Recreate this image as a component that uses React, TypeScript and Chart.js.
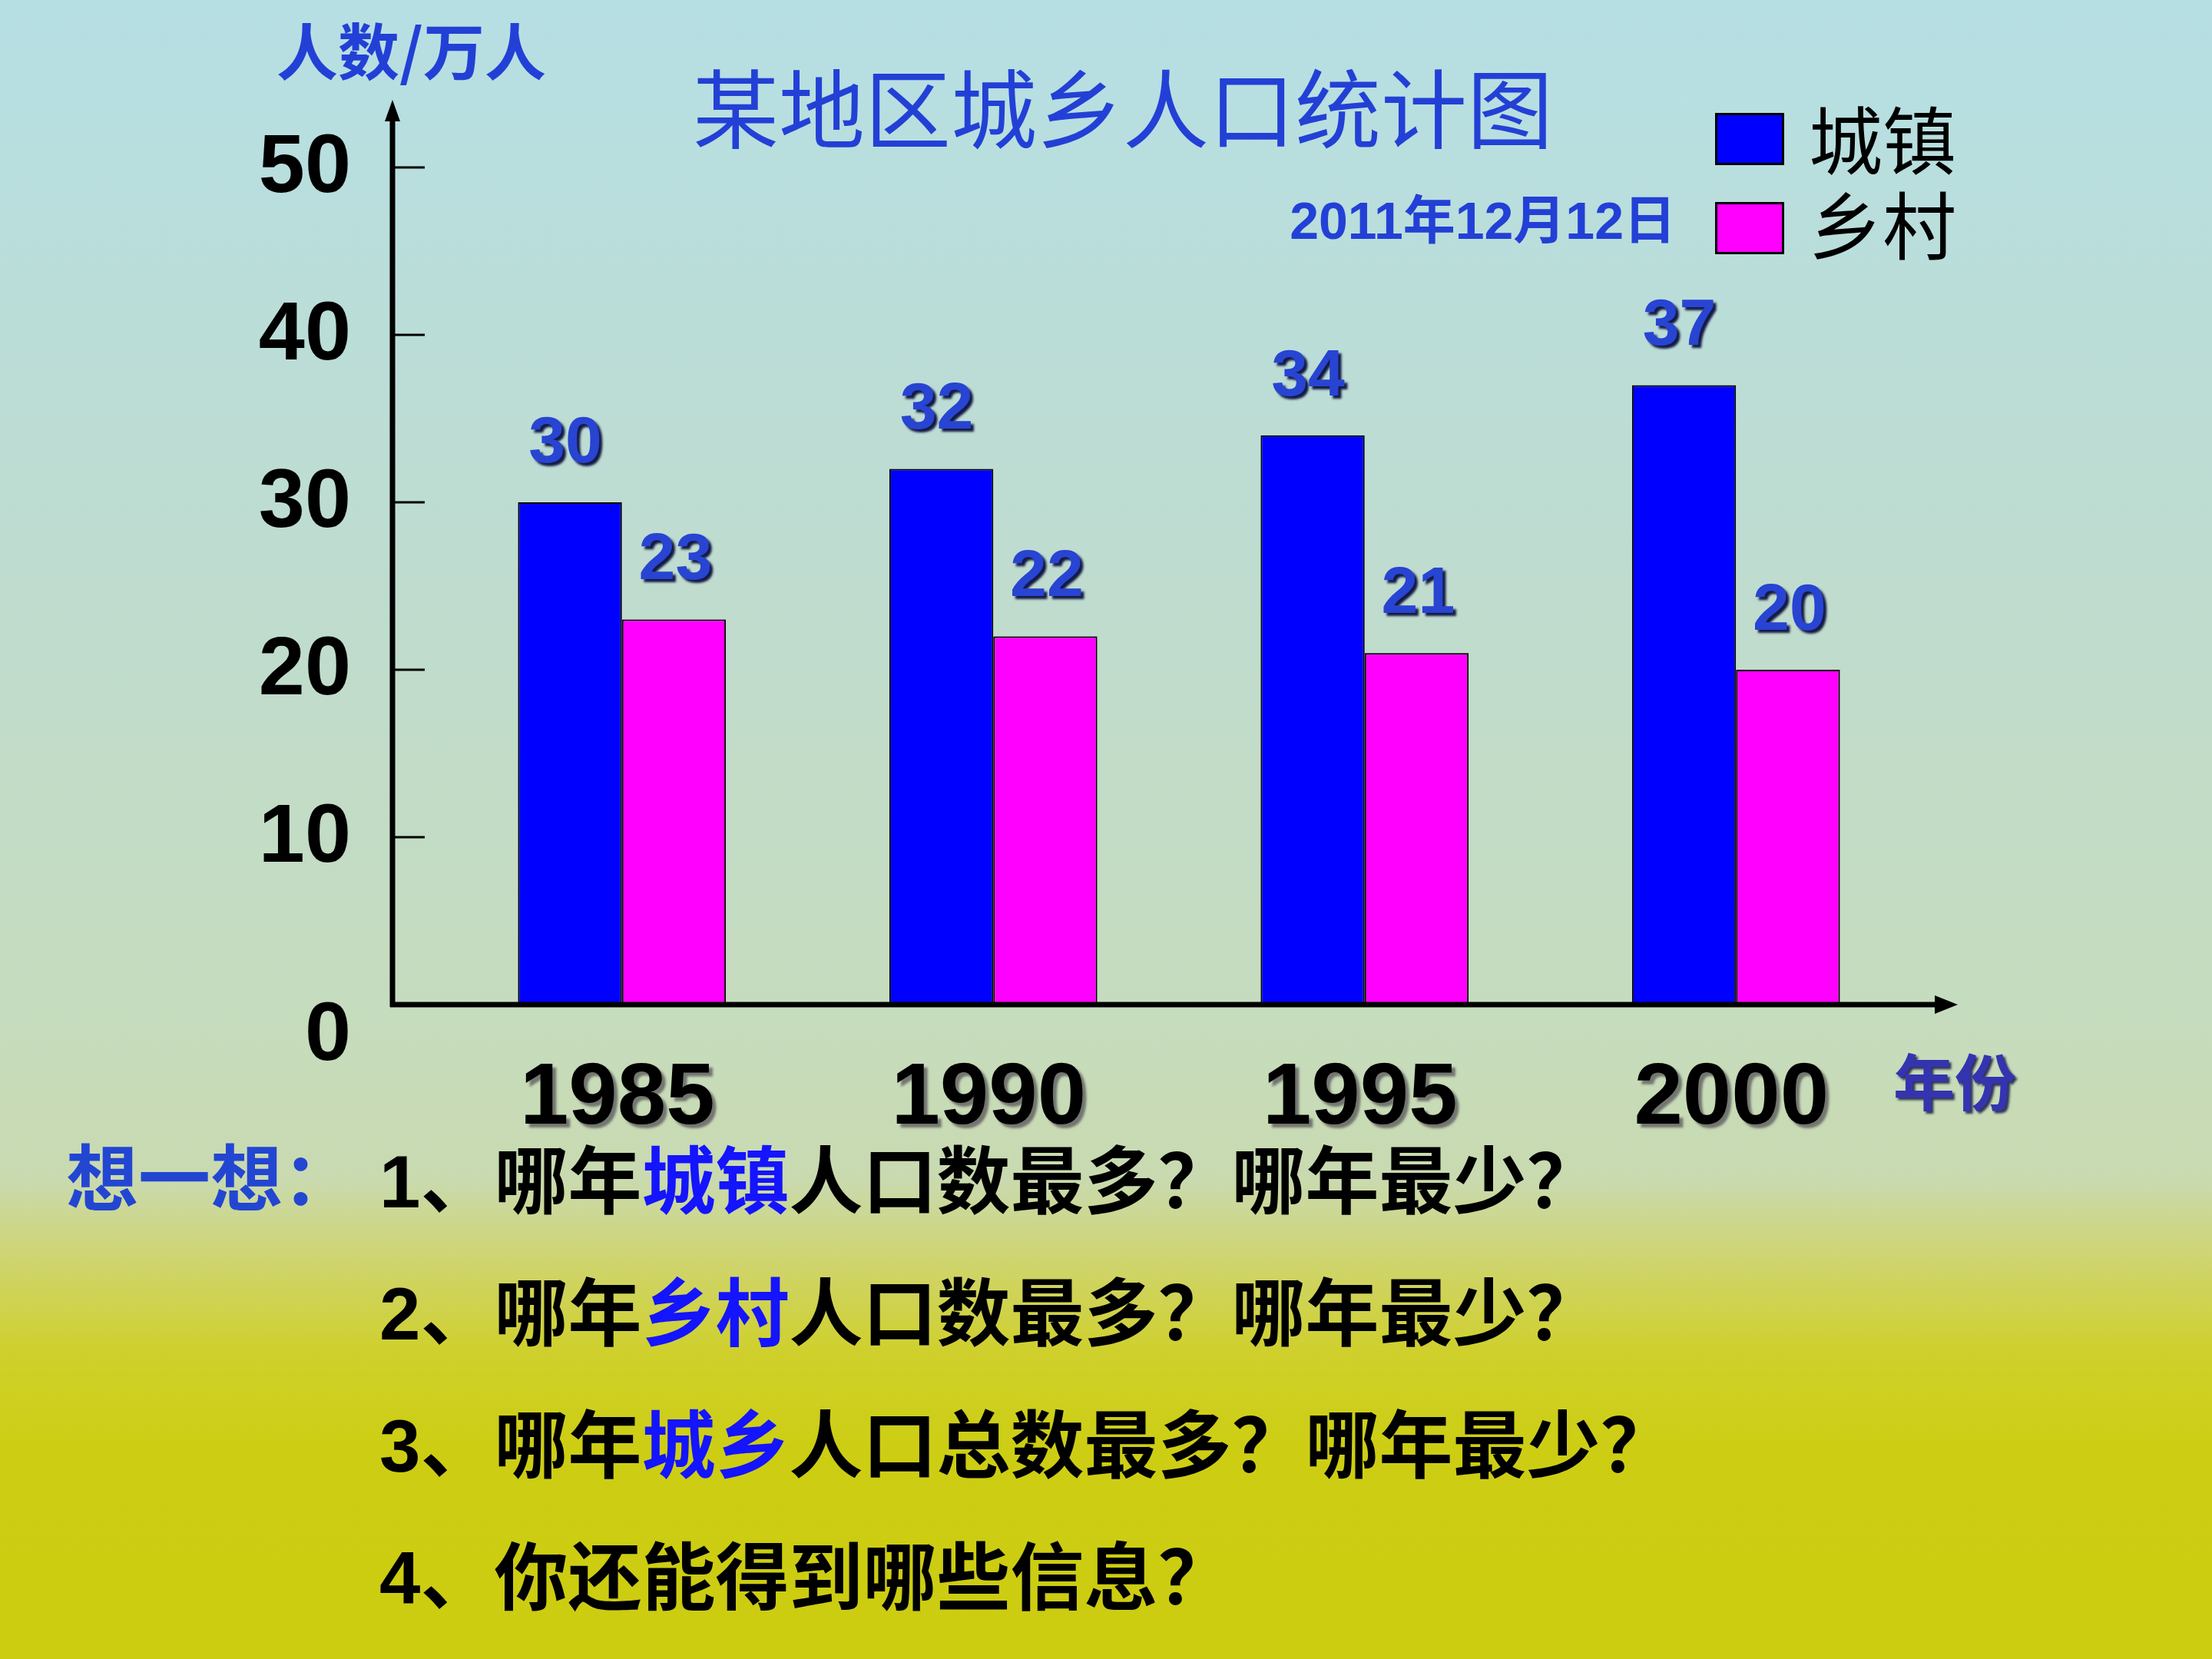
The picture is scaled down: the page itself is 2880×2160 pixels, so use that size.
import React, { useEffect, useRef } from "react";
import { Chart, registerables } from "chart.js";

Chart.register(...registerables);

// ---------- data ----------
const years = ["1985", "1990", "1995", "2000"];
const seriesNames = ["城镇", "乡村"];
const urbanValues = [30, 32, 34, 37];
const ruralValues = [23, 22, 21, 20];
const seriesColors = ["#0000ff", "#ff00ff"];
const yTickValues = [0, 10, 20, 30, 40, 50];
const titleText = "某地区城乡人口统计图";
const yAxisTitle = "人数/万人";
const xAxisTitle = "年份";
const dateText = "2011年12月12日";
const promptText = "想一想：";
// each question: list of [text, highlighted]
const questions: [string, boolean][][] = [
  [["1、哪年", false], ["城镇", true], ["人口数最多？哪年最少？", false]],
  [["2、哪年", false], ["乡村", true], ["人口数最多？哪年最少？", false]],
  [["3、哪年", false], ["城乡", true], ["人口总数最多？哪年最少？", false]],
  [["4、你还能得到哪些信息？", false]],
];

const ARIAL = "'Liberation Sans', Arial, sans-serif";
const CJK = "'Liberation Sans', 'Noto Sans CJK SC', sans-serif";

const slidePlugin = {
  id: "slideAxes",
  afterDatasetsDraw(chart: any) {
    const { ctx, chartArea, scales } = chart;
    const x = scales.x;
    const y = scales.y;
    const axisX = chartArea.left - 57;
    const zeroY = y.getPixelForValue(0);
    const topY = y.getPixelForValue(50);
    ctx.save();
    ctx.fillStyle = "#000";
    ctx.strokeStyle = "#000";

    // y axis with arrow
    ctx.lineWidth = 7;
    ctx.beginPath();
    ctx.moveTo(axisX, zeroY + 3);
    ctx.lineTo(axisX, topY - 70);
    ctx.stroke();
    ctx.beginPath();
    ctx.moveTo(axisX, topY - 88);
    ctx.lineTo(axisX - 10, topY - 60);
    ctx.lineTo(axisX + 10, topY - 60);
    ctx.closePath();
    ctx.fill();

    // x axis with arrow
    const tipX = chartArea.right + 47;
    ctx.beginPath();
    ctx.moveTo(axisX - 3, zeroY);
    ctx.lineTo(tipX - 20, zeroY);
    ctx.stroke();
    ctx.beginPath();
    ctx.moveTo(tipX, zeroY);
    ctx.lineTo(tipX - 30, zeroY - 12);
    ctx.lineTo(tipX - 30, zeroY + 12);
    ctx.closePath();
    ctx.fill();

    // y ticks + labels
    ctx.lineWidth = 3;
    ctx.font = `bold 108px ${ARIAL}`;
    ctx.textAlign = "right";
    ctx.textBaseline = "middle";
    yTickValues.forEach((v) => {
      const py = y.getPixelForValue(v);
      if (v !== 0) {
        ctx.beginPath();
        ctx.moveTo(axisX, py);
        ctx.lineTo(axisX + 42, py);
        ctx.stroke();
        ctx.fillText(String(v), axisX - 54, py + 2);
      } else {
        ctx.fillText(String(v), axisX - 54, py + 42);
      }
    });

    // x labels with grey shadow
    ctx.font = `bold 114px ${ARIAL}`;
    ctx.textAlign = "center";
    ctx.shadowColor = "rgba(100,100,100,0.85)";
    ctx.shadowOffsetX = 5;
    ctx.shadowOffsetY = 5;
    ctx.shadowBlur = 3;
    years.forEach((lab, i) => {
      ctx.fillText(lab, x.getPixelForValue(i) - 6, zeroY + 124);
    });

    // data labels
    ctx.font = `bold 86px ${ARIAL}`;
    ctx.fillStyle = "#2844d2";
    ctx.shadowColor = "rgba(10,15,60,0.95)";
    ctx.shadowOffsetX = 4;
    ctx.shadowOffsetY = 4;
    ctx.shadowBlur = 3;
    chart.data.datasets.forEach((ds: any, di: number) => {
      const meta = chart.getDatasetMeta(di);
      meta.data.forEach((bar: any, i: number) => {
        ctx.fillText(String(ds.data[i]), bar.x - 6 + di * 8, bar.y - 76);
      });
    });
    ctx.restore();
  },
};

export default function App() {
  const canvasRef = useRef<HTMLCanvasElement>(null);

  useEffect(() => {
    document.body.style.margin = "0";
    const canvas = canvasRef.current!;
    const datasets = [urbanValues, ruralValues].map((vals, i) => ({
      label: seriesNames[i],
      data: vals,
      backgroundColor: seriesColors[i],
      borderColor: "#000000",
      borderWidth: 2,
      barPercentage: 1,
      categoryPercentage: 0.56,
    }));
    const chart = new Chart(canvas, {
      type: "bar",
      data: { labels: years, datasets },
      options: {
        responsive: false,
        animation: false,
        devicePixelRatio: 1,
        layout: { padding: { left: 568, right: 378, top: 218, bottom: 852 } },
        scales: {
          x: { display: false },
          y: { display: false, min: 0, max: 50 },
        },
        plugins: {
          legend: { display: false },
          tooltip: { enabled: false },
          title: { display: false },
        },
      },
      plugins: [slidePlugin],
    });
    return () => chart.destroy();
  }, []);

  const abs = (left: number, cy: number, size: number): React.CSSProperties => ({
    position: "absolute",
    left,
    top: cy - size * 0.7,
    height: size * 1.4,
    lineHeight: `${size * 1.4}px`,
    fontSize: size,
    whiteSpace: "nowrap",
  });

  return (
    <div
      style={{
        position: "absolute",
        left: 0,
        top: 0,
        width: 2880,
        height: 2160,
        overflow: "hidden",
        background:
          "linear-gradient(to bottom, #b6dfe4 0%, #bfdccf 35%, #c6dcbd 62%, #c9dab0 71%, #cfd468 76.5%, #cfd02c 81.5%, #cdce14 87%, #cccc10 100%)",
        fontFamily: CJK,
      }}
    >
      <canvas
        ref={canvasRef}
        width={2880}
        height={2160}
        style={{ position: "absolute", left: 0, top: 0, width: 2880, height: 2160 }}
      />
      {/* y axis title */}
      <div
        style={{
          ...abs(360, 62, 80),
          color: "#2340d6",
          fontWeight: 700,
          fontFamily: "'Noto Sans CJK SC', sans-serif",
        }}
      >
        {yAxisTitle}
      </div>
      {/* title */}
      <div
        style={{
          ...abs(0, 136, 112),
          width: 2924,
          textAlign: "center",
          color: "#2340d6",
          fontWeight: 400,
          fontFamily: "'Noto Sans CJK SC', sans-serif",
        }}
      >
        {titleText}
      </div>
      {/* date */}
      <div style={{ ...abs(0, 288, 68), width: 2182, textAlign: "right", color: "#2340d6", fontWeight: 700 }}>
        {dateText}
      </div>
      {/* legend */}
      {seriesNames.map((name, i) => (
        <React.Fragment key={name}>
          <div
            style={{
              position: "absolute",
              left: 2233,
              top: i === 0 ? 147 : 263,
              width: 90,
              height: 68,
              boxSizing: "border-box",
              border: "3px solid #000",
              background: seriesColors[i],
            }}
          />
          <div
            style={{
              ...abs(2355, i === 0 ? 178 : 289, 96),
              color: "#000",
              fontFamily: "'Noto Sans CJK SC', sans-serif",
              fontWeight: 400,
            }}
          >
            {name}
          </div>
        </React.Fragment>
      ))}
      {/* x axis title */}
      <div
        style={{
          ...abs(2465, 1412, 80),
          color: "#3434b0",
          fontWeight: 700,
          textShadow: "3px 3px 3px rgba(10,10,60,0.8)",
        }}
      >
        {xAxisTitle}
      </div>
      {/* questions */}
      <div style={{ ...abs(86, 1537, 94), color: "#2346d2", fontWeight: 700 }}>{promptText}</div>
      {questions.map((q, qi) => (
        <div key={qi} style={{ ...abs(494, 1539 + qi * 172, 96), color: "#000", fontWeight: 700 }}>
          {q.map(([t, hl], si) => (
            <span key={si} style={{ color: hl ? "#1414ff" : "#000" }}>
              {t}
            </span>
          ))}
        </div>
      ))}
    </div>
  );
}
